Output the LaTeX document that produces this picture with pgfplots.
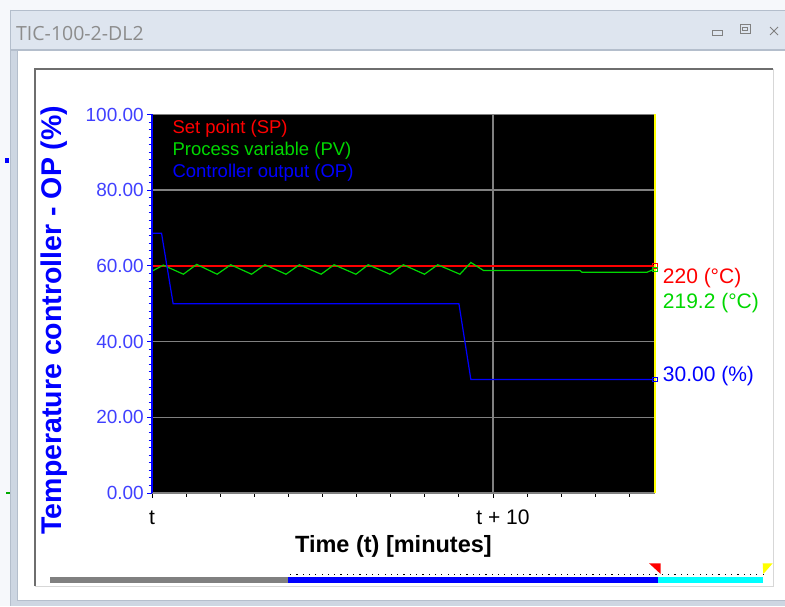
\documentclass[border=0pt]{standalone}
\usepackage{pgfplots}
\pgfplotsset{compat=1.18}
\usepackage{fontspec}
\setmainfont{Liberation Sans}
\newfontfamily\titlefont{Open Sans}
\definecolor{outerbg}{RGB}{246,248,251}
\definecolor{tbar}{RGB}{222,229,239}
\definecolor{tframe}{RGB}{205,214,226}
\definecolor{tline}{RGB}{180,190,204}
\definecolor{titletxt}{RGB}{140,140,140}
\definecolor{artgreen}{RGB}{0,170,0}
\definecolor{ticklbl}{RGB}{64,64,255}
\definecolor{pvgreen}{RGB}{0,215,0}
\definecolor{spred}{RGB}{255,0,0}
\definecolor{gridgray}{RGB}{128,128,128}
\definecolor{cyanbar}{RGB}{0,255,255}
\definecolor{ylw}{RGB}{255,255,0}
\definecolor{boxdark}{RGB}{110,110,110}
\definecolor{boxlight}{RGB}{215,215,215}
\newcommand\fs[1]{\fontsize{#1}{#1}\selectfont}
\begin{document}
\begin{tikzpicture}
\useasboundingbox (0,0) rectangle (785pt,606pt);
\fill[outerbg] (0,0) rectangle (785pt,606pt);
\begin{scope}[x=1pt,y=-1pt,yshift=606pt]
  % window frame
  \fill[tframe] (10,10) rectangle (785,606);
  \fill[tbar] (10,10) rectangle (785,50);
  \draw[tline, line width=1pt] (10,10.5) -- (785,10.5);
  \draw[tline, line width=1.5pt] (10,50) -- (785,50);
  \draw[tline, line width=1pt] (10.5,10) -- (10.5,606);
  \fill[white] (17,51) rectangle (785,600);
  \draw[tline, line width=1pt] (17,51) -- (17,600) -- (785,600);
  % title
  \node[anchor=base west, inner sep=0pt, text=titletxt, font=\titlefont\fs{19.5}] at (16,40.7) {TIC-100-2-DL2};
  % buttons
  \draw[gray, line width=1pt] (712,31) rectangle (722,35.5);
  \draw[gray, line width=1pt] (740,25) rectangle (750,34);
  \draw[gray, line width=1pt] (742.5,28) rectangle (747.5,31);
  \draw[gray, line width=1pt] (770,27) -- (774,31) -- (778,27) (770,35) -- (774,31) -- (778,35);
  % artifacts on the left
  \fill[blue] (5,158) rectangle (9,163);
  \fill[artgreen] (6,492) rectangle (10,493.5);
  % inner box
  \fill[white] (35,69) rectangle (773,586);
  \draw[boxlight, line width=1pt] (773,69) -- (773,586) -- (35,586);
  \draw[boxdark, line width=2pt] (35,586) -- (35,69) -- (773,69);
  % bottom bar
  \fill[gridgray] (50,577) rectangle (288,583);
  \fill[blue] (288,577) rectangle (658,583);
  \fill[cyanbar] (658,577) rectangle (763,583);
  \foreach \i in {0,...,75} {\fill[black] ({290+6.3*\i},573.5) rectangle ({291.2+6.3*\i},574.7);}
  \fill[red] (649,563.3) -- (660.7,563.3) -- (660.7,574) -- cycle;
  \fill[ylw] (762.7,563.3) -- (772.7,563.3) -- (763.3,574) -- cycle;
\end{scope}
\begin{axis}[
  at={(152pt,113pt)}, anchor=south west,
  scale only axis, width=503pt, height=378.5pt,
  xmin=0, xmax=14.75, ymin=0, ymax=100,
  clip=false,
  axis background/.style={fill=black},
  axis line style={draw=none},
  xtick={0,10}, xticklabels={t, \hspace*{20pt}t + 10},
  minor xtick={1,2,3,4,5,6,7,8,9,11,12,13,14},
  ytick={0,20,...,100},
  minor ytick={2,4,...,98},
  tick align=outside,
  xtick pos=bottom, ytick pos=left,
  major tick length=5pt, minor tick length=3.5pt,
  xtick style={black, line width=1pt},
  ytick style={blue, line width=1pt},
  /pgf/number format/assume math mode=true,
  yticklabel={\pgfmathprintnumber[fixed, fixed zerofill, precision=2]{\tick}},
  yticklabel style={font=\fs{19}, text=ticklbl, anchor=east, inner sep=0pt, xshift=-3pt},
  xticklabel style={font=\fs{21}, text=black, anchor=base, inner sep=0pt, yshift=-26.5pt},
  xlabel={Time (t) [minutes]},
  xlabel style={at={(axis description cs:0.48,-0.156)}, anchor=base, font=\bfseries\fs{23.5}, inner sep=0pt},
  ylabel={Temperature controller - OP (\%)},
  ylabel style={at={(axis description cs:-0.179,0.457)}, anchor=base, font=\bfseries\fs{28.5}, text=blue, inner sep=0pt},
]
% grid lines (behind the data)
\draw[gridgray, line width=1.5pt] (axis cs:0,20) -- (axis cs:14.75,20);
\draw[gridgray, line width=1.5pt] (axis cs:0,40) -- (axis cs:14.75,40);
\draw[gridgray, line width=1.5pt] (axis cs:0,60) -- (axis cs:14.75,60);
\draw[gridgray, line width=1.5pt] (axis cs:0,80) -- (axis cs:14.75,80);
\draw[gridgray, line width=1.5pt] (axis cs:10,0) -- (axis cs:10,100);
\addplot[spred, line width=1.3pt] coordinates {(0,60) (14.75,60)};
\addplot[pvgreen, line width=1.2pt] coordinates {
(0,58.6) (0.33,60.2) (0.92,57.8) (1.31,60.4) (1.91,57.8) (2.31,60.3) (2.92,57.8)
(3.31,60.3) (3.93,57.8) (4.32,60.3) (4.96,57.8) (5.34,60.3) (5.98,57.8) (6.34,60.3)
(6.98,57.8) (7.37,60.3) (7.99,57.8) (8.38,60.3) (9.03,57.8) (9.35,60.9) (9.72,58.8)
(12.55,58.8) (12.61,58.3) (14.51,58.3) (14.69,59.0) (14.75,59.0)};
\addplot[blue, line width=1.2pt] coordinates {
(0,68.6) (0.28,68.6) (0.62,50) (9.0,50) (9.35,30) (14.75,30)};
\draw[gridgray, line width=1.5pt] (rel axis cs:0,1) -- (rel axis cs:1,1);
\draw[gridgray, line width=1.5pt] (rel axis cs:0,0) -- (rel axis cs:1,0);
\draw[blue, line width=2pt] (rel axis cs:0,0) -- (rel axis cs:0,1);
\draw[ylw, line width=2pt] (rel axis cs:1,0) -- (rel axis cs:1,1);
\addplot[spred, only marks, mark=square, mark size=2.2pt, line width=1pt] coordinates {(14.75,60)};
\addplot[pvgreen, only marks, mark=square, mark size=2.2pt, line width=1pt] coordinates {(14.75,59)};
\addplot[blue, only marks, mark=square, mark size=2.2pt, line width=1pt] coordinates {(14.75,30)};
\end{axis}
\begin{scope}[x=1pt,y=-1pt,yshift=606pt]
  \node[anchor=base west, inner sep=0pt, text=red, font=\fs{18.5}] at (172.3,134) {Set point (SP)};
  \node[anchor=base west, inner sep=0pt, text=pvgreen, font=\fs{18.5}] at (172.3,156) {Process variable (PV)};
  \node[anchor=base west, inner sep=0pt, text=blue, font=\fs{18.5}] at (172.3,177.3) {Controller output (OP)};
  \node[anchor=base west, inner sep=0pt, text=red, font=\fs{21}] at (662.7,283.3) {220 (°C)};
  \node[anchor=base west, inner sep=0pt, text=pvgreen, font=\fs{21}] at (662.7,308.3) {219.2 (°C)};
  \node[anchor=base west, inner sep=0pt, text=blue, font=\fs{21}] at (662.7,381.5) {30.00 (\%)};
\end{scope}
\end{tikzpicture}
\end{document}
